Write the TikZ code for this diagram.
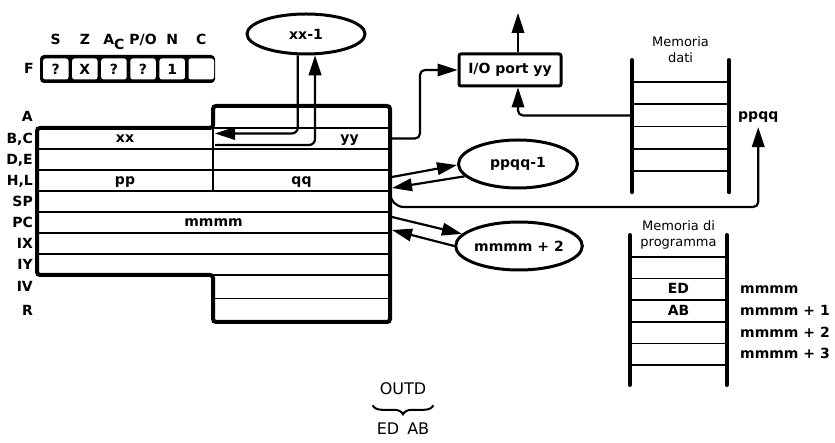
\documentclass[tikz,border=0pt]{standalone}
\usepackage{fontspec}
\setmainfont{DejaVu Sans}
\usepackage{tikz}
\usetikzlibrary{arrows.meta,positioning,calc,shapes.geometric,decorations.pathreplacing}
\newcommand{\boldtxt}{\fontsize{14}{16}\selectfont\bfseries}
\newcommand{\plaintxt}{\fontsize{13}{16}\selectfont}
\newcommand{\bigtxt}{\fontsize{16}{18}\selectfont}
\tikzset{
  regrow/.style={draw, line width=1.7pt, inner sep=0pt, outer sep=0pt, minimum height=21pt, font=\boldtxt, text height=9pt, text depth=0pt},
  regframe/.style={line width=4pt, rounded corners=3pt},
  reglab/.style={anchor=east, inner sep=0pt, font=\boldtxt, text height=10pt, text depth=0pt},
  flagbox/.style={fill=black, rounded corners=4pt, minimum width=175pt, minimum height=28pt, inner sep=0pt},
  flagcell/.style={fill=white, rounded corners=2.5pt, minimum width=25.5pt, minimum height=21pt, inner sep=0pt, font=\boldtxt},
  flaglab/.style={anchor=base, inner sep=0pt, font=\boldtxt},
  oval/.style={ellipse, draw, line width=3pt, minimum width=119pt, minimum height=48pt, inner sep=0pt, font=\boldtxt},
  iobox/.style={draw, line width=3pt, rounded corners=2pt, minimum width=102pt, minimum height=32pt, inner sep=0pt, font=\boldtxt},
  memcell/.style={draw, line width=1.7pt, minimum width=97pt, minimum height=22.3pt, inner sep=0pt, outer sep=0pt, font=\boldtxt, text height=9pt, text depth=0pt},
  rail/.style={line width=4pt, line cap=round},
  memtitle/.style={align=center, inner sep=0pt, font=\plaintxt},
  addr/.style={inner sep=0pt, font=\boldtxt, text height=9pt, text depth=0pt},
  arrow/.style={-{Triangle[length=20pt,width=12.5pt]}, line width=2.2pt},
  brace/.style={decorate, decoration={brace, mirror, amplitude=9pt}, line width=2pt}
}
\begin{document}
\begin{tikzpicture}[x=1pt, y=-1pt]
  \useasboundingbox (0,0) rectangle (835,443);

  \node[flagbox] (fbox) at (127.5,69) {};
  \node[flagcell, right=3pt of fbox.west] (f1) {?};
  \node[flagcell, right=3.2pt of f1] (f2) {X};
  \node[flagcell, right=3.2pt of f2] (f3) {?};
  \node[flagcell, right=3.2pt of f3] (f4) {?};
  \node[flagcell, right=3.2pt of f4] (f5) {1};
  \node[flagcell, right=3.2pt of f5] (f6) {};
  \node[reglab, left=6pt of fbox] (lF) {F};
  \coordinate (flagy) at (0,45);
  \node[flaglab] (sS) at (f1 |- flagy) {S};
  \node[flaglab] (sZ) at (f2 |- flagy) {Z};
  \node[flaglab] (sAC) at (f3 |- flagy) {A\raisebox{-5pt}{C}};
  \node[flaglab] (sPO) at (f4 |- flagy) {P/O};
  \node[flaglab] (sN) at (f5 |- flagy) {N};
  \node[flaglab] (sC) at (f6 |- flagy) {C};

  \node[regrow, minimum width=176pt, anchor=north west] (rB) at (37,128) {xx};
  \node[regrow, minimum width=177pt, right=0pt of rB] (rC) {};
  \node[regrow, minimum width=177pt, minimum height=22pt, above=0pt of rC] (rA) {};
  \node[regrow, minimum width=176pt, below=0pt of rB] (rD) {};
  \node[regrow, minimum width=177pt, right=0pt of rD] (rE) {};
  \node[regrow, minimum width=176pt, below=0pt of rD] (rH) {pp};
  \node[regrow, minimum width=177pt, right=0pt of rH] (rL) {qq};
  \node[regrow, minimum width=353pt, below=0pt of rH.south west, anchor=north west] (rSP) {};
  \node[regrow, minimum width=353pt, below=0pt of rSP] (rPC) {mmmm};
  \node[regrow, minimum width=353pt, below=0pt of rPC] (rIX) {};
  \node[regrow, minimum width=353pt, below=0pt of rIX] (rIY) {};
  \node[regrow, minimum width=177pt, minimum height=23.5pt, below=0pt of rIY.south east, anchor=north east] (rIV) {};
  \node[regrow, minimum width=177pt, minimum height=23.5pt, below=0pt of rIV] (rR) {};
  \node[addr] (yy) at ($(rC.center)+(48,0)$) {yy};
  \draw[regframe] (rA.north west) -- (rA.north east) -- (rR.south east) -- (rR.south west)
    -- (rIV.north west) -- (rIY.south west) -- (rB.north west) -- (rB.north east) -- cycle;

  \coordinate (labx) at (33,0);
  \node[reglab] (lA) at (rA -| labx) {A};
  \node[reglab] (lBC) at (rB -| labx) {B,C};
  \node[reglab] (lDE) at (rD -| labx) {D,E};
  \node[reglab] (lHL) at (rH -| labx) {H,L};
  \node[reglab] (lSP) at (rSP -| labx) {SP};
  \node[reglab] (lPC) at (rPC -| labx) {PC};
  \node[reglab] (lIX) at (rIX -| labx) {IX};
  \node[reglab] (lIY) at (rIY -| labx) {IY};
  \node[reglab] (lIV) at (rIV -| labx) {IV};
  \node[reglab] (lR) at (rR -| labx) {R};

  \node[oval, minimum width=118pt, minimum height=40pt] (xx1) at (306,34) {xx-1};
  \node[oval] (pq1) at (518,164) {ppqq-1};
  \node[oval] (mm2) at (519,246) {mmmm + 2};
  \node[iobox] (io) at (510,70) {I/O port yy};
  \coordinate (ioup) at (518,13);

  \node[memcell] (d1) at (680.5,93.2) {};
  \node[memcell, below=0pt of d1] (d2) {};
  \node[memcell, below=0pt of d2] (d3) {};
  \node[memcell, below=0pt of d3] (d4) {};
  \draw[rail] ($(d1.north west)+(0,-22)$) -- ($(d4.south west)+(0,21)$);
  \draw[rail] ($(d1.north east)+(0,-22)$) -- ($(d4.south east)+(0,21)$);
  \node[memtitle, above=19pt of d1] (dtitle) {Memoria\\dati};
  \node[addr, right=9pt of d2] (ppqq) {ppqq};

  \node[memcell, minimum height=21.6pt] (p1) at (678.5,267.8) {};
  \node[memcell, minimum height=21.6pt, below=0pt of p1] (p2) {ED};
  \node[memcell, minimum height=21.6pt, below=0pt of p2] (p3) {AB};
  \node[memcell, minimum height=21.6pt, below=0pt of p3] (p4) {};
  \node[memcell, minimum height=21.6pt, below=0pt of p4] (p5) {};
  \draw[rail] ($(p1.north west)+(0,-22)$) -- ($(p5.south west)+(0,20)$);
  \draw[rail] ($(p1.north east)+(0,-22)$) -- ($(p5.south east)+(0,20)$);
  \node[memtitle, above=8pt of p1] (ptitle) {Memoria di\\programma};
  \node[addr, right=13pt of p2] (a0) {mmmm};
  \node[addr, right=13pt of p3] (a1) {mmmm + 1};
  \node[addr, right=13pt of p4] (a2) {mmmm + 2};
  \node[addr, right=13pt of p5] (a3) {mmmm + 3};

  \draw[arrow, rounded corners=6pt] (xx1.249) |- ($(rB.east)+(2,-5)$);
  \draw[arrow, rounded corners=6pt] ($(rB.east)+(2,6.5)$) -| (xx1.293);
  \draw[arrow, rounded corners=5pt] (rC.east) -- ++(30,0) |- (io.west);
  \draw[arrow] ($(io.north)+(8,0)$) -- (ioup);
  \draw[arrow, rounded corners=5pt] (d2.west) -| ($(io.south)+(8,0)$);
  \draw[arrow] ($(rL.east)+(2,-3.5)$) -- (pq1.181);
  \draw[arrow] (pq1.193) -- ($(rL.east)+(2,7.5)$);
  \coordinate (hlbus) at ($(rL.south east)+(30,16)$);
  \draw[arrow, shorten >=7pt] (rL.south east) [rounded corners=14pt] |- (hlbus) [rounded corners=5pt] -| (ppqq.south);
  \draw[arrow] ($(rPC.east)+(2,-5.5)$) -- (mm2.168);
  \draw[arrow] (mm2.180) -- ($(rPC.east)+(2,7.5)$);

  \node[inner sep=0pt, font=\bigtxt] (outd) at (403,389) {OUTD};
  \draw[brace] ($(outd.south west)+(-7,10)$) -- ($(outd.south east)+(7,10)$);
  \node[inner sep=0pt, font=\bigtxt, below=27pt of outd] (edab) {ED\enspace AB};
\end{tikzpicture}
\end{document}
